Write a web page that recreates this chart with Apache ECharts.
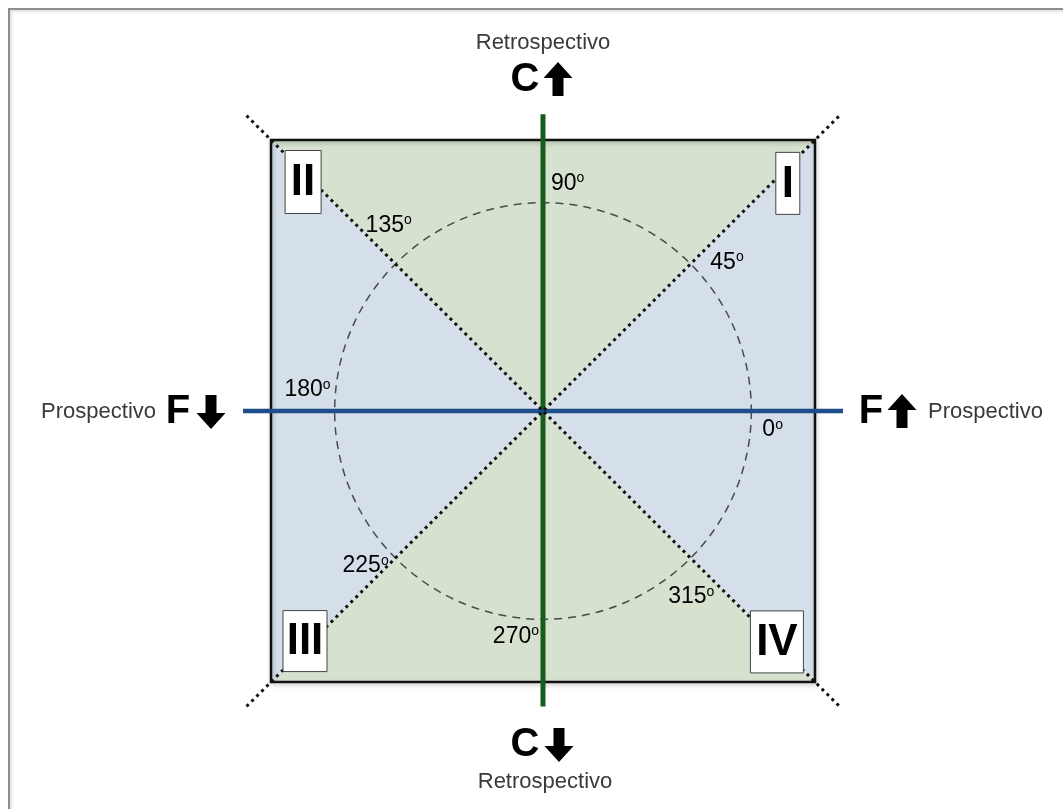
<!DOCTYPE html>
<html>
<head>
<meta charset="utf-8">
<script src="https://cdn.jsdelivr.net/npm/echarts@6/dist/echarts.min.js"></script>
<style>
html, body { margin: 0; padding: 0; background: #fff; }
#frame {
  position: absolute; left: 8px; top: 8px; right: -4px; bottom: -4px;
  border-top: 2px solid #8c8c8c; border-left: 2px solid #8c8c8c;
  box-shadow: inset 2px 2px 3px rgba(0, 0, 0, 0.12);
}
#chart { position: absolute; left: 0; top: 0; width: 1063px; height: 809px; }
</style>
</head>
<body>
<div id="frame"></div>
<div id="chart"></div>
<script>
// diagram data
const angles = [0, 45, 90, 135, 180, 225, 270, 315]
const quadrants = ['I', 'II', 'III', 'IV']
const regions = ['top', 'left', 'bottom', 'right']
const axisWords = ['Retrospectivo', 'Prospectivo']
const axisLetters = ['C', 'F']
const circleRadius = 0.766

// layout / style
const green = '#d6e2cf'
const blue = '#d5dfe9'
const regionColors = { top: green, bottom: green, left: blue, right: blue }
const regionCorners = {
  top: [[-1, 1], [1, 1]],
  left: [[-1, 1], [-1, -1]],
  bottom: [[-1, -1], [1, -1]],
  right: [[1, 1], [1, -1]]
}
const segments = [
  { from: [0, 1.095], to: [0, -1.09], style: { stroke: '#165c1f', lineWidth: 5 } },
  { from: [-1.103, 0], to: [1.103, 0], style: { stroke: '#1d4e8a', lineWidth: 4.5 } },
  { from: [-1.09, 1.09], to: [1.09, -1.09], style: { stroke: '#111', lineWidth: 3, lineDash: [3, 4] } },
  { from: [-1.09, -1.09], to: [1.09, 1.09], style: { stroke: '#111', lineWidth: 3, lineDash: [3, 4] } }
]
// pixel offsets of the angle labels from the point on the circle
const angleLabelPos = {
  0: { dx: 11, dy: 19, align: 'left' },
  45: { dx: 20, dy: -2, align: 'left' },
  90: { dx: 8, dy: -20, align: 'left' },
  135: { dx: -7, dy: -39, align: 'center' },
  180: { dx: -4, dy: -21, align: 'right' },
  225: { dx: -7, dy: 8, align: 'right' },
  270: { dx: -4, dy: 18, align: 'right' },
  315: { dx: 1, dy: 39, align: 'center' }
}
// quadrant box centres (data units) and sizes (px)
const quadrantBox = {
  I: { at: [0.9, 0.84], size: [24, 62] },
  II: { at: [-0.882, 0.845], size: [36, 63] },
  III: { at: [-0.875, -0.849], size: [44, 61] },
  IV: { at: [0.86, -0.852], size: [53, 62] }
}

let chartDom = document.getElementById('chart')
let myChart = echarts.init(chartDom, null, { renderer: 'canvas' })

const wordFont = '22px "Liberation Sans"'
const letterFont = 'bold 40px "Liberation Sans"'

// block arrow, cx = centre x, top = top y, up = direction
function arrow (cx, top, up) {
  const w = 29, h = 34, head = 16, shaft = 11
  let pts
  if (up) {
    pts = [[cx, top], [cx + w / 2, top + head], [cx + shaft / 2, top + head], [cx + shaft / 2, top + h],
      [cx - shaft / 2, top + h], [cx - shaft / 2, top + head], [cx - w / 2, top + head]]
  } else {
    const b = top + h
    pts = [[cx, b], [cx + w / 2, b - head], [cx + shaft / 2, b - head], [cx + shaft / 2, top],
      [cx - shaft / 2, top], [cx - shaft / 2, b - head], [cx - w / 2, b - head]]
  }
  return { type: 'polygon', shape: { points: pts }, style: { fill: '#000' } }
}

function word (text, x, y, align) {
  return { type: 'text', x: x, y: y, style: { text: text, align: align, verticalAlign: 'middle', fill: '#3a3a3a', font: wordFont } }
}

function letter (text, x, y) {
  return { type: 'text', x: x, y: y, style: { text: text, align: 'center', verticalAlign: 'middle', fill: '#000', font: letterFont } }
}

let option = {
  animation: false,
  grid: { left: 271, top: 140, width: 544, height: 542 },
  xAxis: { type: 'value', min: -1, max: 1, show: false },
  yAxis: { type: 'value', min: -1, max: 1, show: false },
  graphic: [
    word(axisWords[0], 543, 43, 'center'),
    letter(axisLetters[0], 525, 80),
    arrow(558, 62, true),
    letter(axisLetters[0], 525, 745),
    arrow(559, 728, false),
    word(axisWords[0], 545, 782, 'center'),
    word(axisWords[1], 156, 412, 'right'),
    letter(axisLetters[1], 178, 412),
    arrow(211, 395, false),
    letter(axisLetters[1], 871, 412),
    arrow(902, 394, true),
    word(axisWords[1], 928, 412, 'left')
  ],
  series: [
    {
      // coloured triangles
      type: 'custom',
      silent: true,
      z: 1,
      data: regions.map((r, i) => [i, 0]),
      renderItem: function (params, api) {
        const r = regions[params.dataIndex]
        const pts = [[0, 0]].concat(regionCorners[r]).map(p => api.coord(p))
        return { type: 'polygon', shape: { points: pts }, style: { fill: regionColors[r] } }
      }
    },
    {
      // square frame
      type: 'custom',
      silent: true,
      z: 2,
      data: [[0, 0]],
      renderItem: function (params, api) {
        const tl = api.coord([-1, 1])
        const br = api.coord([1, -1])
        return {
          type: 'rect',
          shape: { x: tl[0], y: tl[1], width: br[0] - tl[0], height: br[1] - tl[1] },
          style: { fill: null, stroke: '#111', lineWidth: 2.5, shadowColor: 'rgba(0,0,0,0.25)', shadowBlur: 4, shadowOffsetX: 1, shadowOffsetY: 2 }
        }
      }
    },
    {
      // dashed circle
      type: 'custom',
      silent: true,
      z: 3,
      data: [[0, 0]],
      renderItem: function (params, api) {
        const c = api.coord([0, 0])
        const r = api.size([circleRadius, 0])[0]
        return {
          type: 'circle',
          shape: { cx: c[0], cy: c[1], r: r },
          style: { fill: null, stroke: '#4a4a4a', lineWidth: 1.5, lineDash: [8, 6] }
        }
      }
    },
    {
      // axis lines and diagonals
      type: 'custom',
      silent: true,
      z: 4,
      data: segments.map((s, i) => [i, 0]),
      renderItem: function (params, api) {
        const s = segments[params.dataIndex]
        const a = api.coord(s.from)
        const b = api.coord(s.to)
        return {
          type: 'line',
          shape: { x1: a[0], y1: a[1], x2: b[0], y2: b[1] },
          style: Object.assign({ fill: null }, s.style)
        }
      }
    },
    {
      // angle labels
      type: 'custom',
      silent: true,
      z: 5,
      data: angles.map(a => [Math.cos(a * Math.PI / 180) * circleRadius, Math.sin(a * Math.PI / 180) * circleRadius, a]),
      renderItem: function (params, api) {
        const a = api.value(2)
        const p = api.coord([api.value(0), api.value(1)])
        const pos = angleLabelPos[a]
        return {
          type: 'text',
          x: p[0] + pos.dx,
          y: p[1] + pos.dy,
          style: {
            text: '{n|' + a + '}{d|o}',
            align: pos.align,
            verticalAlign: 'middle',
            rich: {
              n: { fontFamily: 'Liberation Sans', fontSize: 23, color: '#222', lineHeight: 24 },
              d: { fontFamily: 'Liberation Sans', fontSize: 14, color: '#222', verticalAlign: 'top', lineHeight: 12 }
            }
          }
        }
      }
    },
    {
      // quadrant boxes
      type: 'custom',
      silent: true,
      z: 6,
      data: quadrants.map((q, i) => [quadrantBox[q].at[0], quadrantBox[q].at[1], i]),
      renderItem: function (params, api) {
        const q = quadrants[params.dataIndex]
        const b = quadrantBox[q]
        const p = api.coord([api.value(0), api.value(1)])
        return {
          type: 'group',
          children: [
            {
              type: 'rect',
              shape: { x: p[0] - b.size[0] / 2, y: p[1] - b.size[1] / 2, width: b.size[0], height: b.size[1] },
              style: { fill: '#fff', stroke: '#444', lineWidth: 1 }
            },
            {
              type: 'text',
              x: p[0],
              y: p[1] + 1,
              style: { text: q, align: 'center', verticalAlign: 'middle', fill: '#000', font: 'bold 44px "Liberation Sans"' }
            }
          ]
        }
      }
    }
  ]
}

option && myChart.setOption(option)
</script>
</body>
</html>
